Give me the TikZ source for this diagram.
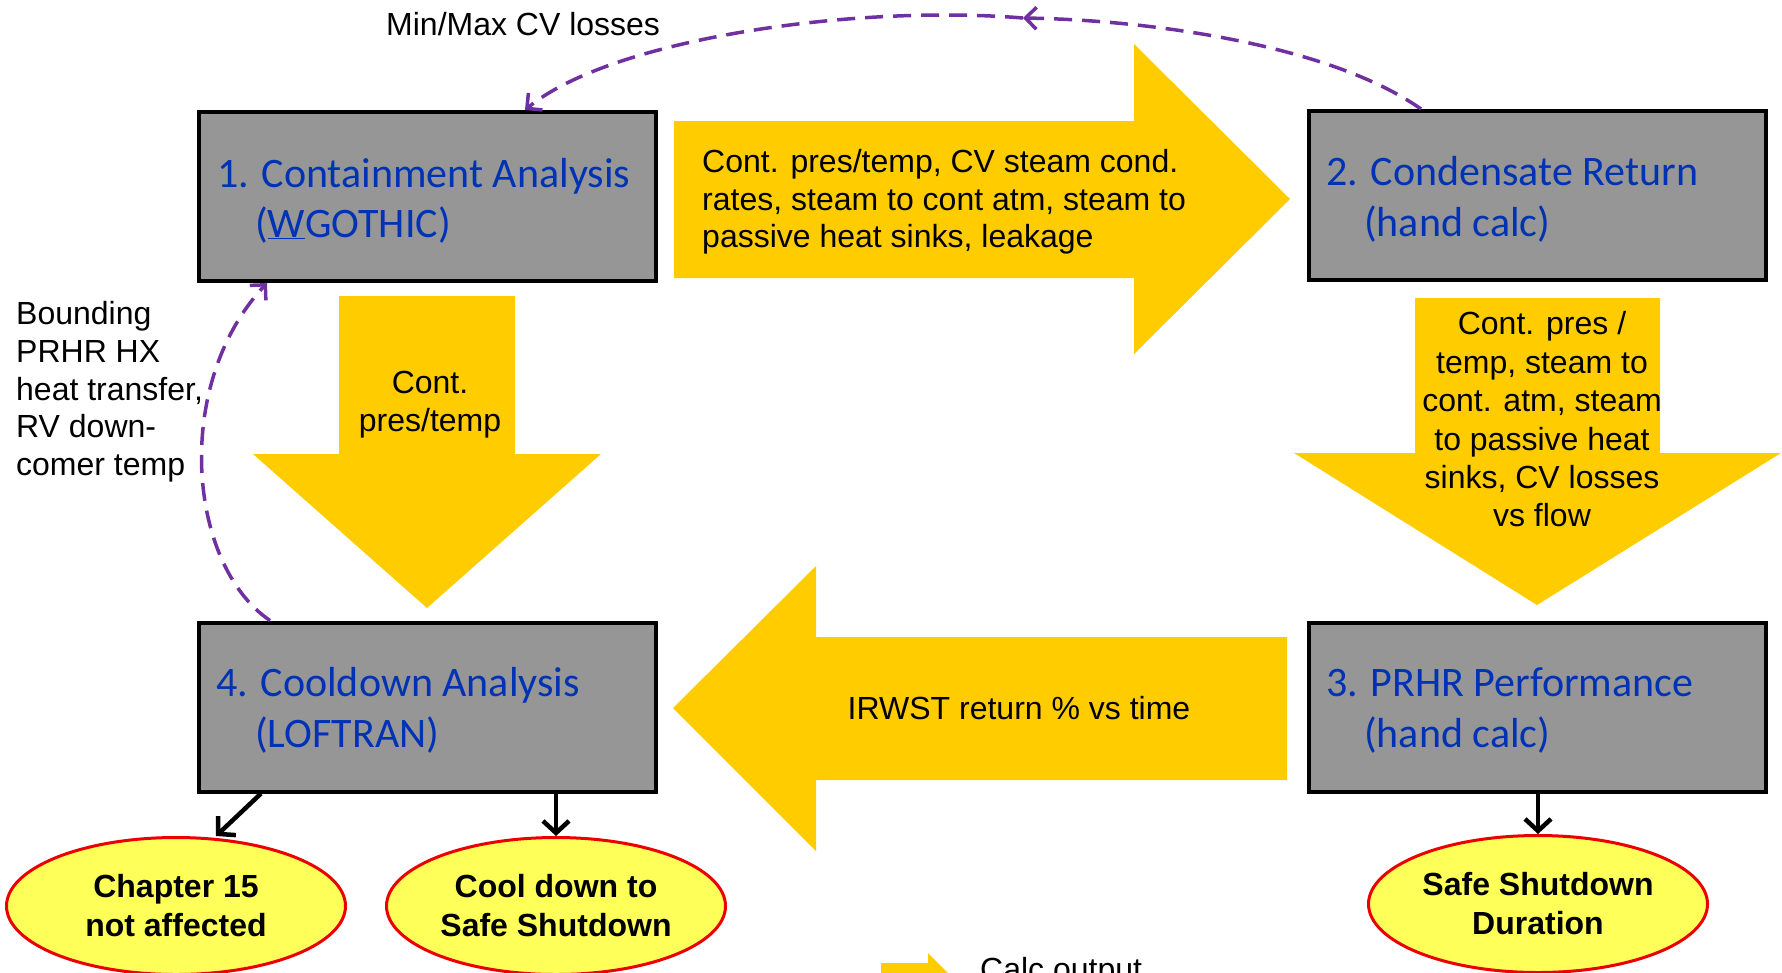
\documentclass[tikz,border=0pt]{standalone}
\usepackage{fontspec}
\setmainfont{Liberation Sans}
\newfontfamily\calib{Carlito}
\usetikzlibrary{arrows.meta,shapes.geometric}
\definecolor{calcyel}{RGB}{255,204,0}
\definecolor{boxgray}{RGB}{150,150,150}
\definecolor{boxblue}{RGB}{0,51,180}
\definecolor{purp}{RGB}{112,48,160}
\definecolor{outred}{RGB}{235,0,0}
\definecolor{outyel}{RGB}{255,255,90}
\tikzset{
 boxn/.style={draw=black, line width=4pt, fill=boxgray, minimum width=457pt, minimum height=169pt, inner sep=0pt},
 boxt/.style={anchor=base west, inner sep=0pt, text=boxblue, font=\calib\fontsize{42}{50}\selectfont},
 calcarrow/.style={fill=calcyel},
 lbl/.style={inner sep=0pt, font=\fontsize{32}{37.7}\selectfont},
 outn/.style={ellipse, draw=outred, line width=3pt, fill=outyel, inner sep=0pt, minimum width=339pt, minimum height=137pt, font=\bfseries\fontsize{32}{39}\selectfont, align=center},
 blk/.style={line width=4.5pt, -{Straight Barb[length=12pt,width=26pt]}},
 pur/.style={draw=purp, line width=3.5pt, dash pattern=on 18pt off 10pt, -{Straight Barb[length=11pt,width=22pt]}},
}
\begin{document}
\begin{tikzpicture}[x=1pt,y=-1pt]
\useasboundingbox (0,0) rectangle (1782,972);
\clip (0,0) rectangle (1782,972);

% calc output arrows
\fill[calcarrow] (674,121) -- (1134,121) -- (1134,44) -- (1290,199) -- (1134,354) -- (1134,278) -- (674,278) -- cycle;
\fill[calcarrow] (339,296) -- (515,296) -- (515,454) -- (601,454) -- (427,608) -- (253,454) -- (339,454) -- cycle;
\fill[calcarrow] (1415,298) -- (1660,298) -- (1660,453) -- (1781,453) -- (1537,605) -- (1294,453) -- (1415,453) -- cycle;
\fill[calcarrow] (1287,637) -- (816,637) -- (816,566) -- (673,708) -- (816,851) -- (816,780) -- (1287,780) -- cycle;
\fill[calcarrow] (881,963) -- (928,963) -- (928,953) -- (958,983) -- (928,1013) -- (928,1003) -- (881,1003) -- cycle;

% boxes
\node[boxn] (b1) at (427.5,196.5) {};
\node[boxn] (b2) at (1537,195.5) {};
\node[boxn] (b4) at (427.5,707) {};
\node[boxn] (b3) at (1537,707) {};

\node[boxt] (t1a) at (217,187) {1. Containment Analysis};
\node[boxt] (t1b) at (255,237) {(\underline{W}GOTHIC)};
\node[boxt] (t2a) at (1326,185) {2. Condensate Return};
\node[boxt] (t2b) at (1364,236) {(hand calc)};
\node[boxt] (t4a) at (216,696) {4. Cooldown Analysis};
\node[boxt] (t4b) at (255,747) {(LOFTRAN)};
\node[boxt] (t3a) at (1326,696) {3. PRHR Performance};
\node[boxt] (t3b) at (1364,747) {(hand calc)};

% arrow texts
\node[lbl, anchor=north west, align=left] (x12) at (702,149) {Cont. pres/temp, CV steam cond.\\rates, steam to cont atm, steam to\\passive heat sinks, leakage};
\node[lbl, anchor=north, align=center] (x14) at (430,371) {Cont.\\pres/temp};
\node[lbl, anchor=north, align=center, font=\fontsize{32}{38.4}\selectfont] (x23) at (1542,311.5) {Cont. pres /\\temp, steam to\\cont. atm, steam\\to passive heat\\sinks, CV losses\\vs flow};
\node[lbl, anchor=base] (x34) at (1019,719) {IRWST return \% vs time};
\node[lbl, anchor=base west] (leg) at (980,980) {Calc output};

% outcomes
\node[outn] (e1) at (176,906) {Chapter 15\\not affected};
\node[outn] (e2) at (556,906) {Cool down to\\Safe Shutdown};
\node[outn] (e3) at (1538,904) {Safe Shutdown\\Duration};

\coordinate (a1s) at (261,0);
\coordinate (a1e) at (216,0);
\draw[blk] (b4.south -| a1s) -- (e1.north -| a1e);
\draw[blk] (b4.south -| e2.north) -- (e2.north);
\draw[blk] (b3.south -| e3.north) -- (e3.north);

% feedback loops
\node[lbl, anchor=base west] (mm) at (386,35) {Min/Max CV losses};
\coordinate (p2s) at (1421,0);
\coordinate (p1e) at (525,0);
\coordinate (pmid) at (1023,18);
\draw[pur] (b2.north -| p2s) .. controls (1330,45) and (1150,20) .. (pmid);
\draw[pur] (pmid) .. controls (850,4) and (610,40) .. (b1.north -| p1e);

\node[lbl, anchor=north west, align=left] (bd) at (16,301.5) {Bounding\\PRHR HX\\heat transfer,\\RV down-\\comer temp};
\coordinate (p4s) at (270,0);
\coordinate (p1b) at (267,0);
\draw[pur] (b4.north -| p4s) .. controls (188,565) and (172,385) .. (b1.south -| p1b);
\end{tikzpicture}
\end{document}
